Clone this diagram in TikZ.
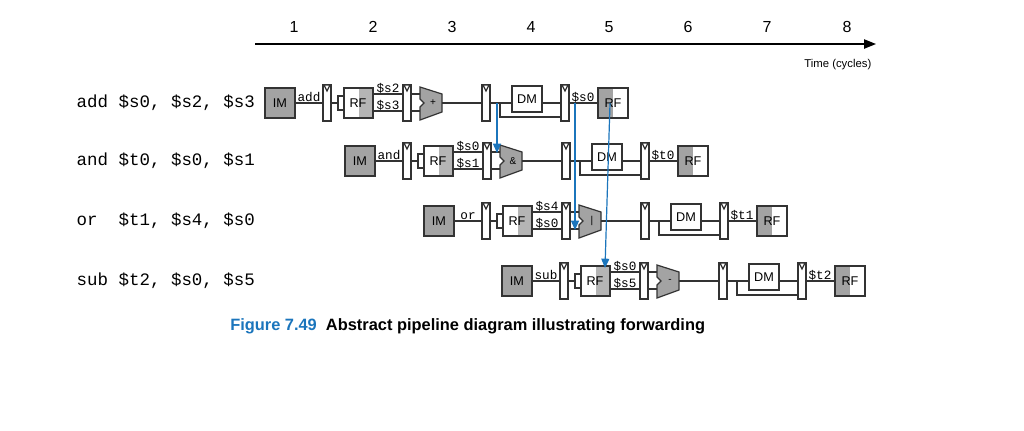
\documentclass[tikz,border=0pt]{standalone}
\usepackage{fontspec}
\setmainfont{Liberation Sans}
\newfontfamily\mono{Liberation Mono}
\usetikzlibrary{arrows.meta}
\definecolor{dg}{HTML}{A3A3A3}
\definecolor{lg}{HTML}{B5B5B5}
\definecolor{fb}{HTML}{1B75BC}
\tikzset{
  ln/.style={draw=black!80,line width=0.9pt},
  blk/.style={ln,fill=white},
  wl/.style={font=\mono\fontsize{9.5}{9.5}\selectfont,inner sep=0.5pt},
  fw/.style={draw=fb,line width=0.9pt,-{Triangle[length=7pt,width=6pt]}},
  lbl/.style={font=\fontsize{9.5}{9.5}\selectfont},
}
\newcommand\preg[2]{% x, cy
  \draw[blk] (#1,#2-18) rectangle (#1+8,#2+18);
  \draw[ln,fill=white] (#1+1,#2-18) -- (#1+7,#2-18) -- (#1+4,#2-12) -- cycle;}
\newcommand\pstage[9]{% ox cy name a b op dest readgray writegray
  \draw[ln] (#1+30,#2) -- (#1+58,#2);
  \node[wl,anchor=south] at (#1+44,#2) {#3};
  \draw[ln,fill=dg] (#1,#2-15) rectangle (#1+30,#2+15);
  \node[lbl] at (#1+15,#2) {IM};
  \preg{#1+58}{#2}
  \draw[ln] (#1+66,#2) -- (#1+73,#2);
  \draw[blk] (#1+73,#2-7) rectangle (#1+79,#2+7);
  \fill[#8] (#1+94,#2-15) rectangle (#1+108,#2+15);
  \draw[ln] (#1+79,#2-15) rectangle (#1+108,#2+15);
  \node[lbl] at (#1+93,#2) {RF};
  \draw[ln] (#1+108,#2-9) -- (#1+138,#2-9);
  \draw[ln] (#1+108,#2+8) -- (#1+138,#2+8);
  \node[wl,anchor=south] at (#1+123,#2-9) {#4};
  \node[wl,anchor=south] at (#1+123,#2+8) {#5};
  \preg{#1+138}{#2}
  \draw[ln] (#1+146,#2-9) -- (#1+155,#2-9);
  \draw[ln] (#1+146,#2+8) -- (#1+155,#2+8);
  \draw[ln,fill=dg] (#1+155,#2-16) -- (#1+177,#2-9) -- (#1+177,#2+9) -- (#1+155,#2+17)
     -- (#1+155,#2+4) -- (#1+159,#2) -- (#1+155,#2-4) -- cycle;
  \node[font=\fontsize{7.5}{7.5}\selectfont] at (#1+168,#2) {#6};
  \draw[ln] (#1+177,#2) -- (#1+217,#2);
  \preg{#1+217}{#2}
  \draw[ln] (#1+225,#2) -- (#1+247,#2);
  \draw[ln] (#1+235,#2) -- (#1+235,#2+14) -- (#1+296,#2+14);
  \draw[ln] (#1+277,#2) -- (#1+296,#2);
  \draw[blk] (#1+247,#2-17) rectangle (#1+277,#2+9);
  \node[lbl] at (#1+262,#2-4) {DM};
  \preg{#1+296}{#2}
  \draw[ln] (#1+304,#2) -- (#1+333,#2);
  \node[wl,anchor=south] at (#1+318,#2) {#7};
  \fill[#9] (#1+333,#2-15) rectangle (#1+348,#2+15);
  \draw[ln] (#1+333,#2-15) rectangle (#1+363,#2+15);
  \node[lbl] at (#1+348,#2) {RF};
}
\begin{document}
\begin{tikzpicture}[x=0.75pt,y=-0.75pt]
\useasboundingbox (0,0) rectangle (1024,430);
\foreach \i/\x in {1/294,2/373,3/452,4/531,5/609,6/688,7/767,8/847}
  \node[font=\fontsize{12}{12}\selectfont] (c\i) at (\x,27) {\i};
\coordinate (t0) at (255,44); \coordinate (t1) at (876,44);
\draw[line width=1pt,-{Triangle[length=9pt,width=7pt]}] (t0) -- (t1);
\node[font=\fontsize{8.5}{8.5}\selectfont,anchor=east] (tl) at (876,65) {Time (cycles)};
\foreach \y/\t [count=\k] in {103/{add \$s0, \$s2, \$s3},161/{and \$t0, \$s0, \$s1},221/{or\ \ \$t1, \$s4, \$s0},281/{sub \$t2, \$s0, \$s5}}
  \node[font=\mono\fontsize{13.1}{13.1}\selectfont,anchor=west] (ins\k) at (72,\y) {\t};
\pstage{265}{103}{add}{\$s2}{\$s3}{+}{\$s0}{lg}{dg}
\pstage{345}{161}{and}{\$s0}{\$s1}{\&}{\$t0}{lg}{dg}
\pstage{424}{221}{or}{\$s4}{\$s0}{|}{\$t1}{lg}{dg}
\pstage{502}{281}{sub}{\$s0}{\$s5}{-}{\$t2}{lg}{dg}
\coordinate (f1a) at (497,103); \coordinate (f1b) at (497,153);
\coordinate (f2a) at (575,103); \coordinate (f2b) at (575,230);
\coordinate (f3a) at (610,103); \coordinate (f3b) at (605,268);
\draw[fw] (f1a) -- (f1b);
\draw[fw] (f2a) -- (f2b);
\draw[fw] (f3a) -- (f3b);
\node[anchor=west,inner sep=0,font=\bfseries\fontsize{12.3}{12.3}\selectfont] (cap) at (230,326)
  {\textcolor{fb}{Figure 7.49}\ \ Abstract pipeline diagram illustrating forwarding};
\end{tikzpicture}
\end{document}
